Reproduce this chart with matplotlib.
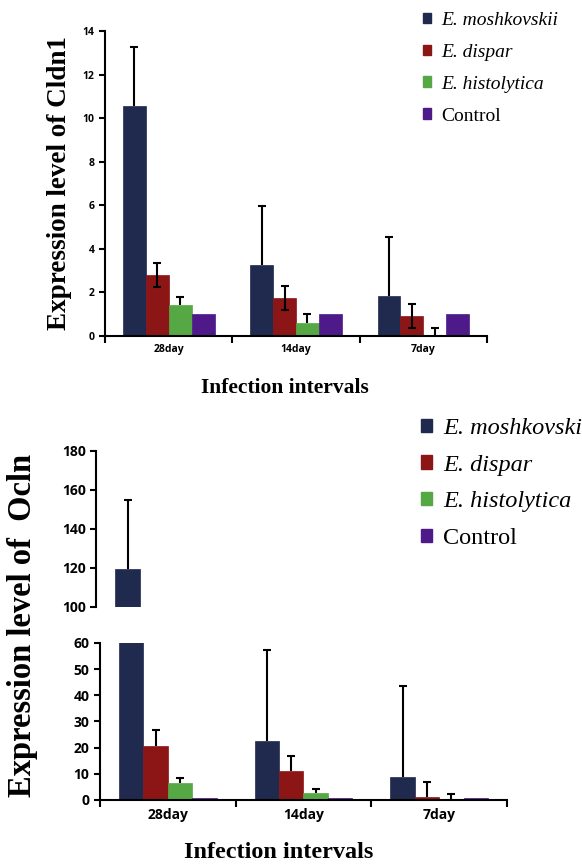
import matplotlib
matplotlib.use("Agg")
import matplotlib.pyplot as plt
import numpy as np
from matplotlib.patches import Patch

# data
days = ["28day", "14day", "7day"]
groups = ["E. moshkovskii", "E. dispar", "E. histolytica", "Control"]
colors = ["#1f2a4e", "#8c1515", "#56a844", "#4e1a8a"]

cldn1 = [[10.55, 3.25, 1.85],
         [2.8, 1.75, 0.9],
         [1.4, 0.6, 0.0],
         [1.0, 1.0, 1.0]]
cldn1_up = [[2.7, 2.7, 2.7],
            [0.55, 0.55, 0.57],
            [0.4, 0.4, 0.37],
            [0.0, 0.0, 0.0]]
cldn1_lo = [[0, 0, 0],
            [0.55, 0.55, 0.55],
            [0, 0, 0],
            [0, 0, 0]]

ocln = [[119.5, 22.6, 8.9],
        [20.7, 11.2, 1.3],
        [6.4, 2.5, 0.5],
        [0.8, 0.7, 0.7]]
ocln_up = [[35.0, 34.6, 34.6],
           [6.0, 5.6, 5.7],
           [1.9, 1.7, 1.8],
           [0.0, 0.0, 0.0]]

tick_font = dict(family="Open Sans", weight="bold")
serif = "Liberation Serif"

fig = plt.figure(figsize=(5.82, 8.67), dpi=100)
x = np.arange(len(days))
w = 0.18


def draw_bars(ax, vals, up, lo=None):
    for i in range(4):
        pos = x + (i - 1.5) * w
        v = np.array(vals[i])
        u = np.array(up[i])
        l = np.zeros(3) if lo is None else np.array(lo[i])
        ax.bar(pos, v, w, color=colors[i], edgecolor=colors[i], linewidth=0.5, zorder=2)
        for j in range(3):
            if u[j] <= 0:
                continue
            _, caps, _ = ax.errorbar(pos[j], v[j], yerr=[[l[j]], [u[j]]],
                                     fmt="none", ecolor="black", elinewidth=1.5,
                                     capsize=3, capthick=1.5, zorder=3)
            if l[j] == 0:
                caps[0].set_visible(False)


def style_x(ax, fs):
    ax.set_xlim(-0.5, 2.5)
    ax.set_xticks(x)
    ax.set_xticklabels(days, fontsize=fs, **tick_font)
    ax.tick_params(axis="x", length=0, pad=6)
    ax.set_xticks([-0.5, 0.5, 1.5, 2.5], minor=True)
    ax.tick_params(axis="x", which="minor", length=5, width=1.5, direction="out")


# ---- top chart: Cldn1
ax1 = fig.add_axes([0.1804, 0.6125, 0.6564, 0.3518])
draw_bars(ax1, cldn1, cldn1_up, cldn1_lo)
ax1.set_ylim(0, 14)
ax1.set_yticks(range(0, 15, 2))
for s in ["top", "right"]:
    ax1.spines[s].set_visible(False)
for s in ["left", "bottom"]:
    ax1.spines[s].set_linewidth(1.5)
ax1.tick_params(axis="y", length=4, width=1.5)
for t in ax1.get_yticklabels():
    t.set_fontsize(7.5)
    t.set_fontfamily("Open Sans")
    t.set_fontweight("bold")
style_x(ax1, 7.5)

fig.text(0.103, 0.789, "Expression level of Cldn1", rotation=90, ha="center", va="center",
         family=serif, weight="bold", fontsize=19.5)
fig.text(0.49, 0.552, "Infection intervals", ha="center", va="center",
         family=serif, weight="bold", fontsize=15.5)

handles = [Patch(facecolor=c, edgecolor=c) for c in colors]
leg1 = fig.legend(handles, groups, loc="upper left", bbox_to_anchor=(0.696, 1.0067),
                  frameon=False, handlelength=0.45, handleheight=0.45, handletextpad=0.5,
                  labelspacing=0.77, prop=dict(family=serif, size=14))
for t in leg1.get_texts()[:3]:
    t.set_fontstyle("italic")

# ---- bottom chart: Ocln (broken axis)
ax2 = fig.add_axes([0.1718, 0.0773, 0.6993, 0.1811])
ax3 = fig.add_axes([0.1658, 0.2999, 0.6993, 0.1803])
draw_bars(ax2, ocln, ocln_up)
draw_bars(ax3, ocln, ocln_up)
ax2.set_ylim(0, 60)
ax2.set_yticks(range(0, 61, 10))
ax3.set_ylim(100, 180)
ax3.set_yticks(range(100, 181, 20))
for a in [ax2, ax3]:
    for s in ["top", "right"]:
        a.spines[s].set_visible(False)
    a.spines["left"].set_linewidth(1.5)
    a.spines["bottom"].set_linewidth(1.5)
    a.tick_params(axis="y", length=4, width=1.5)
    for t in a.get_yticklabels():
        t.set_fontsize(10)
        t.set_fontfamily("Open Sans")
        t.set_fontweight("bold")
ax3.spines["bottom"].set_visible(False)
ax3.set_xlim(-0.5, 2.5)
ax3.set_xticks([])
style_x(ax2, 10)

fig.text(0.038, 0.279, "Expression level of  Ocln", rotation=90, ha="center", va="center",
         family=serif, weight="bold", fontsize=23.5)
fig.text(0.478, 0.017, "Infection intervals", ha="center", va="center",
         family=serif, weight="bold", fontsize=17.5)

leg2 = fig.legend(handles, groups, loc="upper left", bbox_to_anchor=(0.686, 0.543),
                  frameon=False, handlelength=0.45, handleheight=0.45, handletextpad=0.45,
                  labelspacing=0.64, prop=dict(family=serif, size=17.5))
for t in leg2.get_texts()[:3]:
    t.set_fontstyle("italic")

fig.savefig("out.png", dpi=100)
